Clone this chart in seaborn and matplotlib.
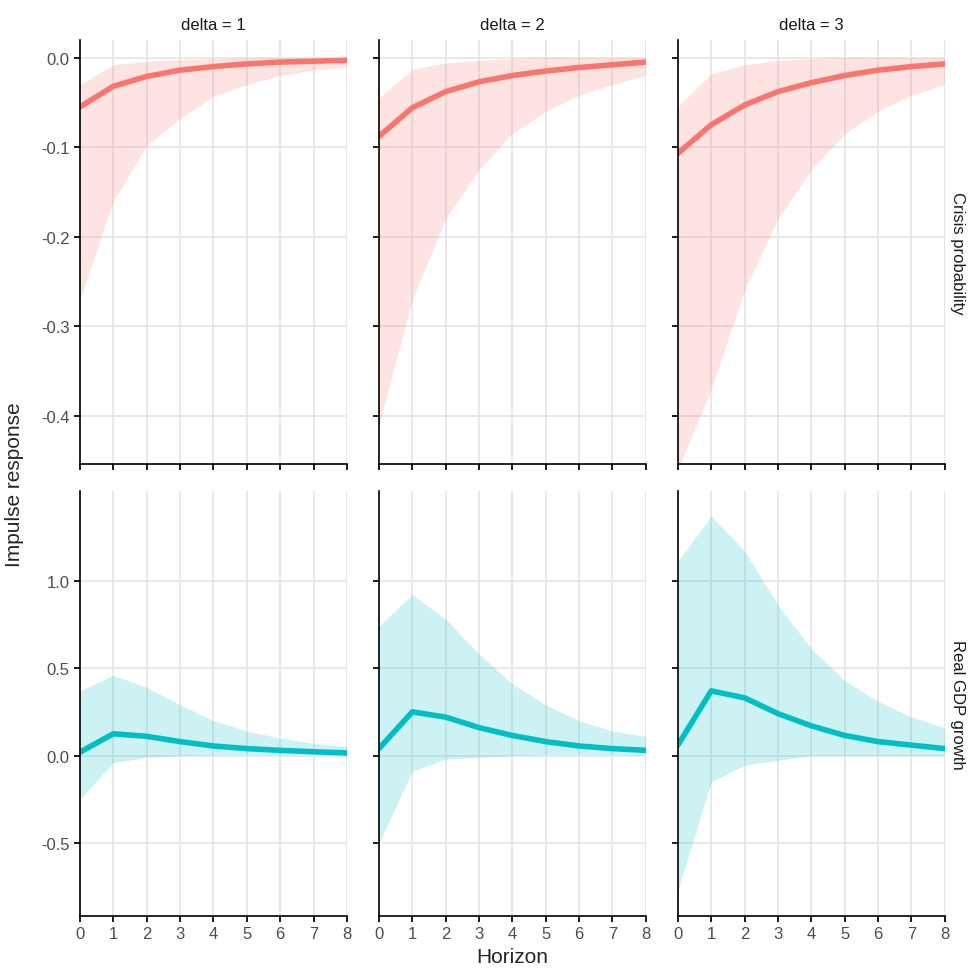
import numpy as np, pandas as pd
import matplotlib
matplotlib.use("Agg")
import matplotlib.pyplot as plt
import seaborn as sns

horizon = list(range(9))
deltas = [1, 2, 3]
variables = ["Crisis probability", "Real GDP growth"]

crisis_mid = {1: [-0.055,-0.032,-0.021,-0.014,-0.010,-0.007,-0.005,-0.004,-0.003],
              2: [-0.088,-0.056,-0.038,-0.027,-0.020,-0.015,-0.011,-0.008,-0.005],
              3: [-0.107,-0.075,-0.053,-0.038,-0.028,-0.020,-0.014,-0.010,-0.007]}
crisis_lo = {1: [-0.27,-0.16,-0.098,-0.068,-0.043,-0.030,-0.020,-0.014,-0.010],
             2: [-0.41,-0.27,-0.18,-0.125,-0.085,-0.060,-0.042,-0.030,-0.020],
             3: [-0.46,-0.37,-0.26,-0.18,-0.125,-0.085,-0.060,-0.042,-0.030]}
crisis_hi = {1: [-0.030,-0.008,-0.004,-0.002,-0.001,0.0,0.0,0.0,0.0],
             2: [-0.045,-0.013,-0.006,-0.003,-0.001,0.0,0.0,0.0,0.0],
             3: [-0.055,-0.018,-0.008,-0.003,-0.001,0.0,0.0,0.0,0.0]}
gdp_mid = {1: [0.02,0.125,0.11,0.08,0.055,0.04,0.03,0.022,0.015],
           2: [0.04,0.25,0.22,0.16,0.115,0.08,0.055,0.04,0.03],
           3: [0.06,0.37,0.33,0.24,0.17,0.115,0.08,0.06,0.04]}
gdp_hi = {1: [0.37,0.46,0.39,0.29,0.20,0.14,0.10,0.07,0.05],
          2: [0.74,0.92,0.78,0.58,0.41,0.29,0.20,0.14,0.11],
          3: [1.11,1.37,1.17,0.86,0.61,0.43,0.31,0.22,0.16]}
gdp_lo = {1: [-0.25,-0.04,-0.01,0.0,0.005,0.005,0.005,0.005,0.005],
          2: [-0.50,-0.09,-0.02,-0.01,0.0,0.005,0.005,0.005,0.005],
          3: [-0.77,-0.15,-0.055,-0.027,0.0,0.0,0.0,0.0,0.0]}

colors = ["#F8766D", "#00BFC4"]
sns.set_theme(style="white")
plt.rcParams['font.family'] = ['Liberation Sans', 'DejaVu Sans']

fig, axes = plt.subplots(2, 3, figsize=(9.76, 9.7), dpi=100, sharey='row')
fig.subplots_adjust(left=0.082, right=0.968, top=0.958, bottom=0.055, wspace=0.12, hspace=0.065)
data = [(crisis_mid, crisis_lo, crisis_hi), (gdp_mid, gdp_lo, gdp_hi)]
ylims = [(-0.454, 0.02), (-0.915, 1.51)]
yticks = [[0.0, -0.1, -0.2, -0.3, -0.4], [-0.5, 0.0, 0.5, 1.0]]
for r in range(2):
    mid, lo, hi = data[r]
    for c, d in enumerate(deltas):
        ax = axes[r, c]
        df = pd.DataFrame({"h": horizon, "v": mid[d]})
        ax.fill_between(horizon, lo[d], hi[d], color=colors[r], alpha=0.2, lw=0)
        sns.lineplot(data=df, x="h", y="v", ax=ax, color=colors[r], lw=4)
        ax.set_xlim(0, 8); ax.set_ylim(*ylims[r])
        ax.set_xticks(horizon); ax.set_yticks(yticks[r])
        ax.set_yticklabels([f"{t:.1f}" for t in yticks[r]])
        ax.grid(True, color="#e5e5e5", lw=1.2); ax.set_axisbelow(True)
        for s in ["top", "right"]: ax.spines[s].set_visible(False)
        for s in ["left", "bottom"]:
            ax.spines[s].set_color("black"); ax.spines[s].set_linewidth(1.2)
        ax.tick_params(axis='both', length=4, color='black', labelsize=12, left=True, bottom=True)
        ax.tick_params(axis='both', labelcolor='#4d4d4d')
        ax.set_xlabel(""); ax.set_ylabel("")
        if r == 0:
            ax.set_title(f"delta = {d}", fontsize=12, color="#1a1a1a", pad=8)
            ax.tick_params(labelbottom=False)
        if c == 2:
            ax.text(1.02, 0.5, variables[r], transform=ax.transAxes, rotation=-90,
                    va="center", ha="left", fontsize=12, color="#1a1a1a")
fig.supxlabel("Horizon", fontsize=15, y=0.003, x=0.525)
fig.supylabel("Impulse response", fontsize=15, x=0.005)
fig.savefig("out.png", dpi=100)
